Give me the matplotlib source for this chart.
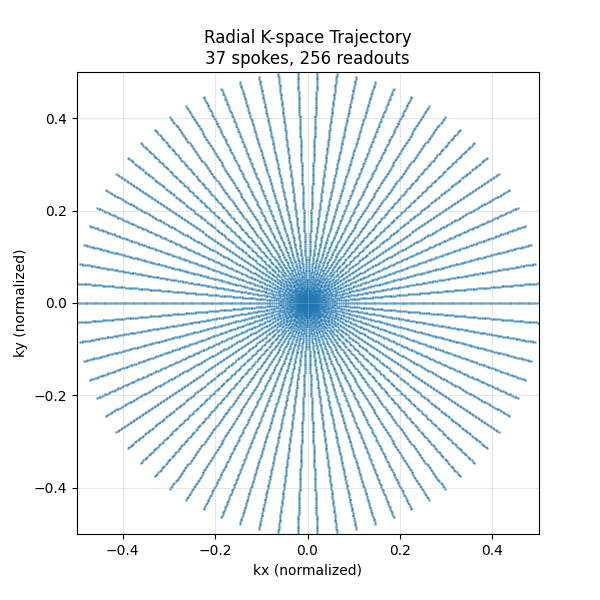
import numpy as np
import matplotlib
matplotlib.use("Agg")
import matplotlib.pyplot as plt

n_spokes = 37
n_readouts = 256
k_max = 0.5

angles = np.arange(n_spokes) * np.pi / n_spokes
k = np.linspace(-k_max, k_max, n_readouts)
kx = (np.cos(angles)[:, None] * k[None, :]).ravel()
ky = (np.sin(angles)[:, None] * k[None, :]).ravel()

fig, ax = plt.subplots(figsize=(6, 6), dpi=100)
ax.scatter(kx, ky, s=1, alpha=0.5, color="#1f77b4")
ax.set_xlim(-0.5, 0.5)
ax.set_ylim(-0.5, 0.5)
ax.set_aspect("equal")
ax.grid(True, alpha=0.3)
ax.set_xlabel("kx (normalized)")
ax.set_ylabel("ky (normalized)")
ax.set_title(f"Radial K-space Trajectory\n{n_spokes} spokes, {n_readouts} readouts")
fig.savefig("out.png", dpi=100)
